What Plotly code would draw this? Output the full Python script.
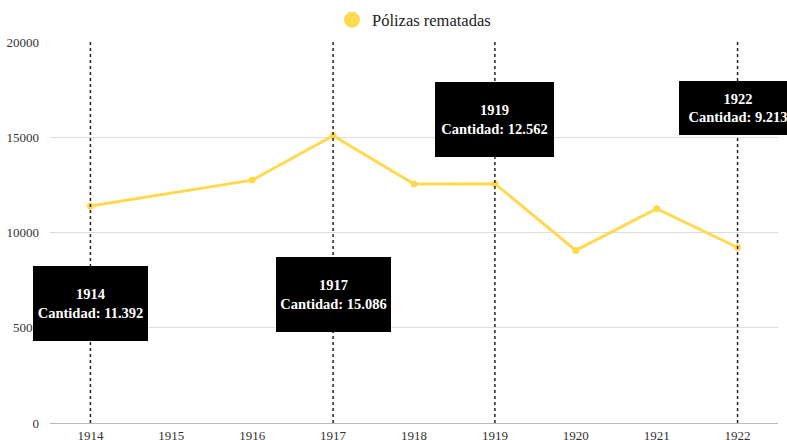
import plotly.graph_objects as go

years = [1914, 1915, 1916, 1917, 1918, 1919, 1920, 1921, 1922]
polizas = [11392, None, 12750, 15086, 12550, 12562, 9060, 11250, 9213]

highlight_years = [1914, 1917, 1919, 1922]
highlight_values = [11392, 15086, 12562, 9213]
box_y = [6270, 6720, 15930, 16540]
box_h = [75, 75, 75, 54]
box_w = [115, 115, 119, 118]

y_ticks = [0, 5000, 10000, 15000, 20000]

FONT = "Liberation Serif"
YELLOW = "rgb(255,217,80)"

fig = go.Figure()
fig.add_trace(go.Scatter(
    x=years, y=polizas, mode="lines+markers", connectgaps=True,
    line=dict(color=YELLOW, width=3), marker=dict(color=YELLOW, size=7),
    showlegend=False, hoverinfo="x+y"))
fig.add_trace(go.Scatter(
    x=[None], y=[None], mode="markers", name="Pólizas rematadas",
    marker=dict(color=YELLOW, size=16), showlegend=True))

for yr in highlight_years:
    fig.add_shape(type="line", xref="x", yref="y", x0=yr, x1=yr, y0=0, y1=20000,
                  line=dict(color="#222", width=1.5, dash="dot"), layer="above")

for yr, v, by, h, w in zip(highlight_years, highlight_values, box_y, box_h, box_w):
    txt = f"<b>{yr}<br>Cantidad: {v:,}</b>".replace(",", ".")
    fig.add_annotation(x=yr, y=by, xref="x", yref="y", text=txt, showarrow=False,
                       bgcolor="black", font=dict(color="white", size=14.5, family=FONT),
                       width=w, height=h, borderpad=0, borderwidth=0, align="center")

fig.update_layout(
    width=787, height=440,
    margin=dict(l=50, r=9, t=42, b=17, autoexpand=False),
    plot_bgcolor="white", paper_bgcolor="white",
    font=dict(family=FONT, size=13, color="#333"),
    legend=dict(orientation="h", x=0.5, xanchor="center", y=1.058, yanchor="middle",
                font=dict(size=16.5, color="#222"), itemsizing="trace"),
    xaxis=dict(range=[1913.5, 1922.5], tickmode="array", tickvals=years,
               ticktext=[str(y) for y in years], showgrid=False, showline=True,
               linecolor="#bbb", linewidth=1, ticks="", zeroline=False, automargin=False),
    yaxis=dict(range=[0, 20000], tickmode="array", tickvals=y_ticks,
               ticktext=[str(t) for t in y_ticks], showgrid=True, gridcolor="#ddd",
               zeroline=False, showline=False, ticks="", ticklabelstandoff=10,
               automargin=False),
)

fig.write_html("out.html", config={"displayModeBar": False},
               post_script="document.body.style.margin='0';")
